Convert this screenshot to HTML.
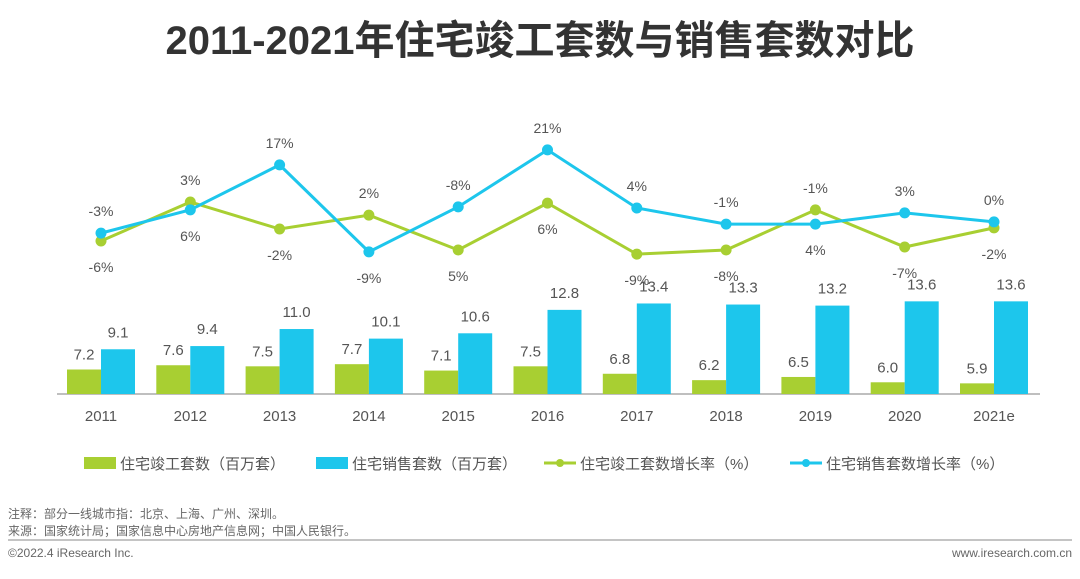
<!DOCTYPE html>
<html><head><meta charset="utf-8"><style>
html,body{margin:0;padding:0;background:#fff;}
body{width:1080px;height:574px;overflow:hidden;font-family:"Liberation Sans","Noto Sans CJK SC",sans-serif;}
</style></head><body>
<svg id="c" width="1080" height="574" viewBox="0 0 1080 574" xmlns="http://www.w3.org/2000/svg" font-family="Liberation Sans, Noto Sans CJK SC, sans-serif">
<text x="540" y="54" text-anchor="middle" font-size="40" font-weight="bold" fill="#333">2011-2021年住宅竣工套数与销售套数对比</text>
<line x1="57" y1="394" x2="1040" y2="394" stroke="#aaa" stroke-width="1.5"/>
<g id="bars"></g><g id="lines"></g><g id="labels"></g>
<g font-size="15" fill="#555">
<rect x="84" y="457" width="32" height="12" fill="#a8cf32"/>
<text x="120" y="469">住宅竣工套数（百万套）</text>
<rect x="316" y="457" width="32" height="12" fill="#1dc6ec"/>
<text x="352" y="469">住宅销售套数（百万套）</text>
<line x1="544" y1="463" x2="576" y2="463" stroke="#a8cf32" stroke-width="3"/><circle cx="560" cy="463" r="4" fill="#a8cf32"/>
<text x="580" y="469">住宅竣工套数增长率（%）</text>
<line x1="790" y1="463" x2="822" y2="463" stroke="#1dc6ec" stroke-width="3"/><circle cx="806" cy="463" r="4" fill="#1dc6ec"/>
<text x="826" y="469">住宅销售套数增长率（%）</text>
</g>
<text x="8" y="518" font-size="12" fill="#666">注释：部分一线城市指：北京、上海、广州、深圳。</text>
<text x="8" y="535" font-size="12" fill="#666">来源：国家统计局；国家信息中心房地产信息网；中国人民银行。</text>
<line x1="8" y1="540" x2="1072" y2="540" stroke="#888" stroke-width="1"/>
<text x="8" y="557" font-size="12" fill="#666">©2022.4 iResearch Inc.</text>
<text x="1072" y="557" font-size="12" fill="#666" text-anchor="end">www.iresearch.com.cn</text>
</svg>
<script>
const categories=["2011","2012","2013","2014","2015","2016","2017","2018","2019","2020","2021e"];
const completed=[7.2,7.6,7.5,7.7,7.1,7.5,6.8,6.2,6.5,6.0,5.9];
const sales=[9.1,9.4,11.0,10.1,10.6,12.8,13.4,13.3,13.2,13.6,13.6];
const completedGrowth=[-3.2,7.2,0,3.7,-5.6,6.9,-6.7,-5.6,5.1,-4.8,0.3];
const salesGrowth=[-1.1,5.1,17.1,-6.1,5.9,21.1,5.6,1.3,1.3,4.3,1.9];
const completedGrowthLabels=["-6%","3%","-2%","2%","5%","6%","-9%","-8%","-1%","-7%","-2%"];
const salesGrowthLabels=["-3%","6%","17%","-9%","-8%","21%","4%","-1%","4%","3%","0%"];
const NS="http://www.w3.org/2000/svg";
const xC=i=>101+i*89.3;
const yBar=v=>394-10.65*(v-4.9);
const yLine=v=>229-3.75*v;
function mk(tag,attrs,parent){const e=document.createElementNS(NS,tag);for(const k in attrs)e.setAttribute(k,attrs[k]);parent.appendChild(e);return e;}
const gb=document.getElementById('bars'),gl=document.getElementById('lines'),gt=document.getElementById('labels');
categories.forEach((c,i)=>{
  const x=xC(i);
  let r=mk('rect',{x:x-34,y:yBar(completed[i]),width:34,height:394-yBar(completed[i]),fill:'#a8cf32'},gb);
  
  
  r=mk('rect',{x:x,y:yBar(sales[i]),width:34,height:394-yBar(sales[i]),fill:'#1dc6ec'},gb);
  
  
  let t=mk('text',{x:x-17,y:yBar(completed[i])-10,'text-anchor':'middle','font-size':15,fill:'#555'},gt);t.textContent=completed[i].toFixed(1);
  
  
  t=mk('text',{x:x+17,y:yBar(sales[i])-12,'text-anchor':'middle','font-size':15,fill:'#555'},gt);t.textContent=sales[i].toFixed(1);
  
  
  t=mk('text',{x:x,y:421,'text-anchor':'middle','font-size':15,fill:'#555'},gt);t.textContent=c;
  
  
});
function series(vals,labels,color,name,other){
  const p=mk('polyline',{points:vals.map((v,i)=>xC(i)+','+yLine(v)).join(' '),fill:'none',stroke:color,'stroke-width':3},gl);
  
  
  vals.forEach((v,i)=>{
    const c=mk('circle',{cx:xC(i),cy:yLine(v),r:5.5,fill:color},gl);
    
    
    const above=v>=other[i];
    const t=mk('text',{x:xC(i),y:above?yLine(v)-17:yLine(v)+31,'text-anchor':'middle','font-size':14,fill:'#555'},gt);
    t.textContent=labels[i];
    
    
  });
}
series(completedGrowth,completedGrowthLabels,'#a8cf32','completed-growth',salesGrowth);
series(salesGrowth,salesGrowthLabels,'#1dc6ec','sales-growth',completedGrowth);
</script>
</body></html>
